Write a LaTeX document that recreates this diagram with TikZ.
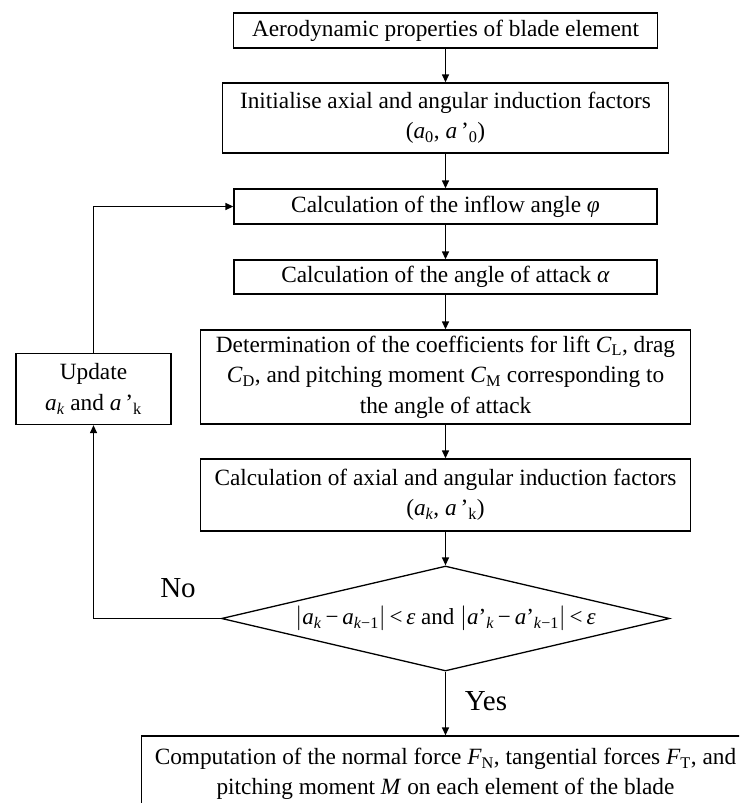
\documentclass[tikz,border=0pt]{standalone}
\usepackage{fontspec}
\setmainfont{Liberation Serif}
\usetikzlibrary{arrows.meta,shapes.geometric}
\newcommand\vbar{$\big|$}
\begin{document}
\begin{tikzpicture}[x=1pt,y=-1pt,
  box/.style={draw, line width=1.3pt, inner sep=0pt, align=center,
    font=\fontsize{23.3}{30.5}\selectfont},
  arr/.style={line width=1.3pt, -{Triangle[length=8pt,width=7pt]}},
  lbl/.style={font=\fontsize{29}{32}\selectfont, inner sep=0pt}]
\useasboundingbox (0,0) rectangle (739,803);
\clip (0,0) rectangle (739,803);
\node[box, minimum width=424pt, minimum height=35pt] (b1) at (445.5,30.5) {Aerodynamic properties of blade element};
\node[box, minimum width=446pt, minimum height=70pt] (b2) at (445.5,118) {Initialise axial and angular induction factors\\(\textit{a}\textsubscript{0}, \textit{a}\,’\textsubscript{0})};
\node[box, minimum width=423pt, minimum height=35pt] (b3) at (445.5,206.5) {Calculation of the inflow angle \textit{φ}};
\node[box, minimum width=423pt, minimum height=34pt] (b4) at (445.5,277) {Calculation of the angle of attack \textit{α}};
\node[box, minimum width=490pt, minimum height=94pt] (b5) at (445.5,377) {Determination of the coefficients for lift \textit{C}\textsubscript{L}, drag\\\textit{C}\textsubscript{D}, and pitching moment \textit{C}\textsubscript{M} corresponding to\\the angle of attack};
\node[box, minimum width=490pt, minimum height=72pt] (b6) at (445.5,495) {Calculation of axial and angular induction factors\\(\textit{a\textsubscript{k}}, \textit{a}\,’\textsubscript{k})};
\node[diamond, draw, line width=1.3pt, inner sep=0pt, aspect=4.27, minimum width=448pt, minimum height=105pt, font=\fontsize{23}{26}\selectfont] (d) at (445.5,618.5) {\vbar\textit{a}\textsubscript{\textit{k}}\,−\,\textit{a}\textsubscript{\textit{k}−1}\vbar\,<\,\textit{ε} and \vbar\textit{a}’\textsubscript{\textit{k}}\,−\,\textit{a}’\textsubscript{\textit{k}−1}\vbar\,<\,\textit{ε}};
\node[box, minimum width=155pt, minimum height=71pt] (up) at (93.5,389) {Update\\\textit{a\textsubscript{k}} and \textit{a}\,’\textsubscript{k}};
\node[box, minimum width=608pt, minimum height=76pt] (bot) at (445.5,774) {Computation of the normal force \textit{F}\textsubscript{N}, tangential forces \textit{F}\textsubscript{T}, and\\pitching moment \textit{M} on each element of the blade};
\node[lbl] (no) at (178,588) {No};
\node[lbl] (yes) at (486,701) {Yes};
\draw[arr] (b1) -- (b2);
\draw[arr] (b2) -- (b3);
\draw[arr] (b3) -- (b4);
\draw[arr] (b4) -- (b5);
\draw[arr] (b5) -- (b6);
\draw[arr] (b6) -- (d);
\draw[arr] (d) -- (bot);
\draw[arr] (d.west) -| (up.south);
\draw[arr] (up.north) |- (b3.west);
\end{tikzpicture}
\end{document}
